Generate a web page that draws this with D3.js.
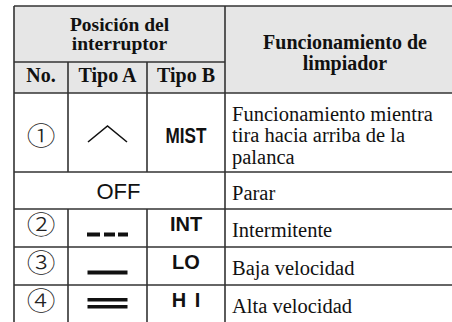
<!DOCTYPE html>
<html><head><meta charset="utf-8">
<script src="https://cdn.jsdelivr.net/npm/d3@7"></script>
<style>html,body{margin:0;padding:0;background:#fff;}svg{display:block;}</style>
</head><body>
<svg id="c" width="452" height="322"></svg>
<script>
// ---- data ----
const headerGroup = ["Posición del", "interruptor"];
const headerCols = ["No.", "Tipo A", "Tipo B"];
const headerFunc = ["Funcionamiento de", "limpiador"];
const numbers = ["①", "", "②", "③", "④"];
const tipoA = ["chevron", "", "dashed", "single", "double"];
const tipoB = ["MIST", "OFF", "INT", "LO", "H I"];
const funcs = [
  ["Funcionamiento mientra", "tira hacia arriba de la", "palanca"],
  ["Parar"],
  ["Intermitente"],
  ["Baja velocidad"],
  ["Alta velocidad"]
];
const rowHeights = [79, 37, 38, 38, 38];

// ---- layout ----
const svg = d3.select("#c");
const colX = [14, 68, 147, 225, 465];
const top0 = 6, h1 = 62, h2 = 93;
const rowTops = [h2];
rowHeights.forEach((h, i) => rowTops.push(rowTops[i] + h));
const rowY = d3.scaleOrdinal().domain(d3.range(funcs.length)).range(rowTops);
const lineCol = "#333";
const serif = "'Liberation Serif','Times New Roman',serif";
const sans = "'Liberation Sans',Arial,sans-serif";

// header background
svg.append("rect").attr("x", colX[0]).attr("y", top0).attr("width", colX[4] - colX[0]).attr("height", h2 - top0).attr("fill", "#e6e6e6");

// header text
const g1 = svg.append("g").attr("font-family", serif).attr("font-weight", "bold").attr("font-size", 20).attr("text-anchor", "middle").attr("fill", "#111");
g1.selectAll("text.hg").data(headerGroup).join("text").attr("class", "hg")
  .attr("x", (colX[0] + colX[3]) / 2).attr("y", (d, i) => 31 + i * 19).attr("font-size", 19.5).text(d => d);
g1.selectAll("text.hc").data(headerCols).join("text").attr("class", "hc")
  .attr("x", (d, i) => (colX[i] + colX[i + 1]) / 2).attr("y", 82).text(d => d);
g1.selectAll("text.hf").data(headerFunc).join("text").attr("class", "hf")
  .attr("x", (colX[3] + colX[4]) / 2).attr("y", (d, i) => 48.5 + i * 21.5).text(d => d);

// body rows
const rows = svg.selectAll("g.row").data(funcs).join("g").attr("class", "row")
  .attr("transform", (d, i) => `translate(0,${rowY(i)})`);

function anchorY(i) { return funcs[i].length > 1 ? rowHeights[i] / 2 + 2 : 14.5; }

// number circled
rows.append("text")
  .attr("transform", (d, i) => `translate(${(colX[0] + colX[1]) / 2},${anchorY(i)}) scale(1.15,1)`)
  .attr("dominant-baseline", "central")
  .attr("text-anchor", "middle").attr("font-family", "'Noto Sans CJK JP','DejaVu Sans',sans-serif")
  .attr("font-size", 25).attr("font-weight", 300).attr("fill", "#222")
  .text((d, i) => numbers[i]);

// Tipo A symbols
const cxA = (colX[1] + colX[2]) / 2;
rows.each(function (d, i) {
  const g = d3.select(this);
  const a = anchorY(i);
  const s = tipoA[i];
  if (s === "chevron") {
    g.append("path").attr("d", `M${cxA - 19.5},${a + 7.5}L${cxA},${a - 8.5}L${cxA + 19.5},${a + 7.5}`)
      .attr("fill", "none").attr("stroke", "#111").attr("stroke-width", 1.6);
  } else if (s === "dashed") {
    [[-20.5, 13], [-3.5, 11], [10.5, 10]].forEach(([x, w]) =>
      g.append("rect").attr("x", cxA + x).attr("y", a + 9).attr("width", w).attr("height", 4).attr("fill", "#111"));
  } else if (s === "single") {
    g.append("rect").attr("x", cxA - 20).attr("y", a + 9).attr("width", 40).attr("height", 4).attr("fill", "#111");
  } else if (s === "double") {
    [-1.5, 5.5].forEach(o => g.append("rect").attr("x", cxA - 20).attr("y", a + o).attr("width", 40).attr("height", 3.5).attr("fill", "#111"));
  }
});

// Tipo B labels
const cxB = (colX[2] + colX[3]) / 2;
rows.each(function (d, i) {
  const g = d3.select(this);
  const a = anchorY(i);
  const t = tipoB[i];
  if (t === "OFF") {
    g.append("text").attr("x", (colX[0] + colX[3]) / 2 - 1).attr("y", 27).attr("text-anchor", "middle")
      .attr("font-family", sans).attr("font-size", 22).attr("fill", "#111").text(t);
  } else if (t === "MIST") {
    g.append("text").attr("transform", `translate(${cxB},${a + 8}) scale(0.78,1)`).attr("text-anchor", "middle")
      .attr("font-family", sans).attr("font-weight", "bold").attr("font-size", 22).attr("fill", "#111").text(t);
  } else {
    g.append("text").attr("x", cxB).attr("y", a + 7).attr("text-anchor", "middle")
      .attr("font-family", sans).attr("font-weight", "bold").attr("font-size", 20)
      .attr("word-spacing", t === "H I" ? 3 : 0).attr("fill", "#111").text(t);
  }
});

// function descriptions
rows.selectAll("text.desc").data(d => d).join("text").attr("class", "desc")
  .attr("x", colX[3] + 7).attr("y", (d, j) => 27.7 + j * 21.5)
  .attr("font-family", serif).attr("font-size", 20.5).attr("fill", "#111").text(d => d);

// grid lines
const lines = [];
lines.push([colX[0], top0, colX[4], top0]);
lines.push([colX[0], h1, colX[3], h1]);
rowTops.forEach((y, i) => { if (i < rowTops.length - 1) lines.push([colX[0], y, colX[4], y]); });
lines.push([colX[0], rowTops[rowTops.length - 1], colX[4], rowTops[rowTops.length - 1]]);
lines.push([colX[0], top0, colX[0], 330]);
lines.push([colX[3], top0, colX[3], 330]);
lines.push([colX[4], top0, colX[4], 330]);
// inner verticals (not through OFF row)
[colX[1], colX[2]].forEach(x => {
  lines.push([x, h1, x, rowTops[1]]);
  lines.push([x, rowTops[2], x, 330]);
});
svg.append("g").selectAll("line").data(lines).join("line")
  .attr("x1", d => d[0]).attr("y1", d => d[1]).attr("x2", d => d[2]).attr("y2", d => d[3])
  .attr("stroke", lineCol).attr("stroke-width", 1.6);
</script>
</body></html>
